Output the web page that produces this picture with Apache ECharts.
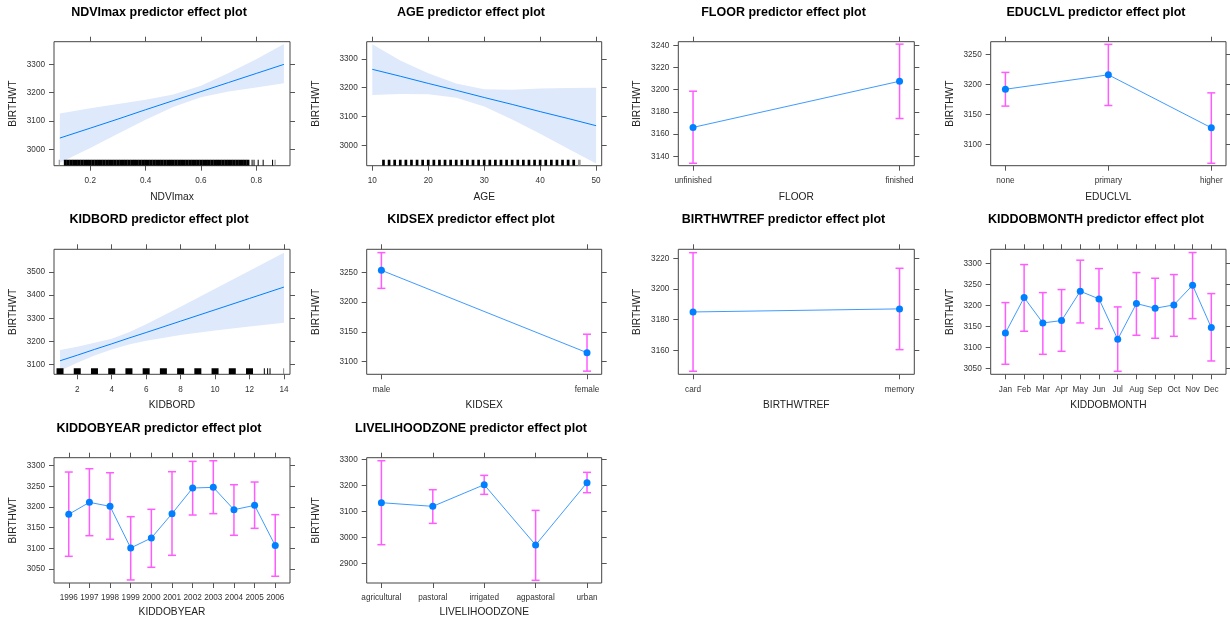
<!DOCTYPE html>
<html>
<head>
<meta charset="utf-8">
<title>BIRTHWT predictor effect plots</title>
<script src="https://cdn.jsdelivr.net/npm/echarts@6.0.0/dist/echarts.min.js"></script>
<style>
  html, body { margin: 0; padding: 0; background: #ffffff; }
  #chart { width: 1230px; height: 620px; }
</style>
</head>
<body>
<div id="chart"></div>
<script>
// values
const yName = 'BIRTHWT';

// NDVImax (continuous)
const ndviX = [0.09, 0.2, 0.3, 0.4, 0.5, 0.6, 0.7, 0.8, 0.9];
const ndviFit = [3040, 3075, 3107, 3140, 3172, 3204, 3236, 3268, 3300];
const ndviLower = [2953, 3005, 3055, 3105, 3150, 3184, 3204, 3218, 3233];
const ndviUpper = [3127, 3145, 3160, 3175, 3194, 3225, 3270, 3318, 3372];
const ndviRugDense = [0.11, 0.12, 0.13, 0.14, 0.15, 0.16, 0.17, 0.18, 0.19, 0.20, 0.21, 0.22, 0.23, 0.24,
  0.25, 0.26, 0.27, 0.28, 0.29, 0.30, 0.31, 0.32, 0.33, 0.34, 0.35, 0.36, 0.37, 0.38, 0.39, 0.40, 0.41,
  0.42, 0.43, 0.44, 0.45, 0.46, 0.47, 0.48, 0.49, 0.50, 0.51, 0.52, 0.53, 0.54, 0.55, 0.56, 0.57, 0.58,
  0.59, 0.60, 0.61, 0.62, 0.63, 0.64, 0.65, 0.66, 0.67, 0.68, 0.69, 0.70, 0.71, 0.72, 0.73, 0.74, 0.75,
  0.76, 0.77];
const ndviRugSparse = [0.785, 0.792, 0.807, 0.825, 0.859];
const ndviRugFaint = [0.088, 0.868];
const ndviXTicks = [0.2, 0.4, 0.6, 0.8];
const ndviYTicks = [3000, 3100, 3200, 3300];

// AGE (continuous)
const ageX = [10, 15, 20, 25, 30, 35, 40, 45, 50];
const ageFit = [3264, 3240, 3215, 3191, 3166, 3142, 3117, 3093, 3068];
const ageLower = [3175, 3178, 3177, 3165, 3135, 3090, 3040, 2988, 2937];
const ageUpper = [3351, 3295, 3250, 3215, 3195, 3193, 3197, 3199, 3200];
const ageRug = [12, 13, 14, 15, 16, 17, 18, 19, 20, 21, 22, 23, 24, 25, 26, 27, 28, 29, 30, 31, 32, 33,
  34, 35, 36, 37, 38, 39, 40, 41, 42, 43, 44, 45, 46];
const ageRugFaint = [47];
const ageXTicks = [10, 20, 30, 40, 50];
const ageYTicks = [3000, 3100, 3200, 3300];

// KIDBORD (continuous)
const kidbordX = [1, 2, 3, 4, 5, 6, 8, 10, 12, 14];
const kidbordFit = [3117, 3141, 3166, 3190, 3215, 3239, 3288, 3337, 3386, 3435];
const kidbordLower = [3074, 3108, 3140, 3166, 3187, 3203, 3228, 3248, 3265, 3281];
const kidbordUpper = [3163, 3178, 3195, 3212, 3240, 3275, 3350, 3428, 3505, 3583];
const kidbordRugBlock = [1, 2, 3, 4, 5, 6, 7, 8, 9, 10, 11, 12];
const kidbordRugThin = [12.86, 13.05, 13.19];
const kidbordRugFaint = [13.98];
const kidbordXTicks = [2, 4, 6, 8, 10, 12, 14];
const kidbordYTicks = [3100, 3200, 3300, 3400, 3500];

// FLOOR
const floorCats = ['unfinished', 'finished'];
const floorFit = [3166, 3207.6];
const floorLower = [3133.7, 3174];
const floorUpper = [3198.6, 3241];
const floorYTicks = [3140, 3160, 3180, 3200, 3220, 3240];

// EDUCLVL
const educCats = ['none', 'primary', 'higher'];
const educFit = [3192, 3216, 3128];
const educLower = [3164, 3165, 3069];
const educUpper = [3220, 3266.6, 3186];
const educYTicks = [3100, 3150, 3200, 3250];

// KIDSEX
const sexCats = ['male', 'female'];
const sexFit = [3253.4, 3115];
const sexLower = [3223, 3084];
const sexUpper = [3283, 3146];
const sexYTicks = [3100, 3150, 3200, 3250];

// BIRTHWTREF
const refCats = ['card', 'memory'];
const refFit = [3185, 3187];
const refLower = [3146.3, 3160.4];
const refUpper = [3223.7, 3213.5];
const refYTicks = [3160, 3180, 3200, 3220];

// KIDDOBMONTH
const monthCats = ['Jan', 'Feb', 'Mar', 'Apr', 'May', 'Jun', 'Jul', 'Aug', 'Sep', 'Oct', 'Nov', 'Dec'];
const monthFit = [3134.4, 3218.8, 3158.3, 3163.9, 3233.9, 3215.6, 3119.3, 3204.5, 3193.3, 3201.3, 3248.2, 3147.1];
const monthLower = [3059.6, 3138.4, 3083.4, 3090.6, 3158.3, 3144.7, 3042.8, 3128.8, 3121.7, 3126.4, 3168.6, 3067.5];
const monthUpper = [3206.8, 3297.6, 3230.7, 3237.9, 3308, 3288, 3196.5, 3278.5, 3264.9, 3273.7, 3326.3, 3228.3];
const monthYTicks = [3050, 3100, 3150, 3200, 3250, 3300];

// KIDDOBYEAR
const yearCats = ['1996', '1997', '1998', '1999', '2000', '2001', '2002', '2003', '2004', '2005', '2006'];
const yearFit = [3182.3, 3211.3, 3201.6, 3100.8, 3125, 3183.9, 3246, 3247.6, 3193.5, 3204, 3106.5];
const yearLower = [3080.6, 3130.6, 3121.8, 3023.4, 3054, 3083, 3180.6, 3183.9, 3131.5, 3148.4, 3032.3];
const yearUpper = [3284.7, 3292.7, 3283, 3176.6, 3194.4, 3285.5, 3310.5, 3312, 3254, 3260.5, 3181.5];
const yearYTicks = [3050, 3100, 3150, 3200, 3250, 3300];

// LIVELIHOODZONE
const zoneCats = ['agricultural', 'pastoral', 'irrigated', 'agpastoral', 'urban'];
const zoneFit = [3134.6, 3120.5, 3203.8, 2971.8, 3211.5];
const zoneLower = [2973, 3055, 3166.7, 2835.9, 3173];
const zoneUpper = [3296, 3184.6, 3239.7, 3105, 3251.3];
const zoneYTicks = [2900, 3000, 3100, 3200, 3300];

// layout
const FONT = '"Liberation Sans", Arial, Helvetica, sans-serif';
const LINE = '#0080ff';
const BAND = '#dfe9fc';
const ERR = '#ff5cff';
const colLeft = [54, 366.7, 678.3, 990.7];
const colWidth = [236, 235, 236, 235.3];
const titleX = [159, 471, 783.5, 1096];
const rowTop = [41.7, 249.3, 457.7];
const rowHeight = [124, 125, 125.3];
const titleY = [6, 213.5, 422];
const xNameGap = [26, 26, 24];

const panels = [
  { row: 0, col: 0, name: 'NDVImax', xs: ndviX, fit: ndviFit, lo: ndviLower, hi: ndviUpper,
    xMin: 0.069, xMax: 0.922, yMin: 2942.5, yMax: 3380, xTicks: ndviXTicks, yTicks: ndviYTicks,
    rugs: [{ v: ndviRugDense, w: 3, c: '#000' }, { v: ndviRugSparse, w: 1, c: '#000' }, { v: ndviRugFaint, w: 1, c: '#888' }] },
  { row: 0, col: 1, name: 'AGE', xs: ageX, fit: ageFit, lo: ageLower, hi: ageUpper,
    xMin: 9, xMax: 51, yMin: 2929, yMax: 3360, xTicks: ageXTicks, yTicks: ageYTicks, yGap: 46,
    rugs: [{ v: ageRug, w: 2.7, c: '#000' }, { v: ageRugFaint, w: 2.7, c: '#999' }] },
  { row: 0, col: 2, name: 'FLOOR', cats: floorCats, fit: floorFit, lo: floorLower, hi: floorUpper,
    yMin: 3131.5, yMax: 3243.2, yTicks: floorYTicks },
  { row: 0, col: 3, name: 'EDUCLVL', cats: educCats, fit: educFit, lo: educLower, hi: educUpper,
    yMin: 3065, yMax: 3271, yTicks: educYTicks },
  { row: 1, col: 0, name: 'KIDBORD', xs: kidbordX, fit: kidbordFit, lo: kidbordLower, hi: kidbordUpper,
    xMin: 0.65, xMax: 14.35, yMin: 3058.6, yMax: 3598, xTicks: kidbordXTicks, yTicks: kidbordYTicks,
    rugs: [{ v: kidbordRugBlock, w: 7, c: '#000' }, { v: kidbordRugThin, w: 1, c: '#000' }, { v: kidbordRugFaint, w: 1, c: '#888' }] },
  { row: 1, col: 1, name: 'KIDSEX', cats: sexCats, fit: sexFit, lo: sexLower, hi: sexUpper,
    yMin: 3078.7, yMax: 3288.6, yTicks: sexYTicks, yGap: 46 },
  { row: 1, col: 2, name: 'BIRTHWTREF', cats: refCats, fit: refFit, lo: refLower, hi: refUpper,
    yMin: 3144.3, yMax: 3225.9, yTicks: refYTicks },
  { row: 1, col: 3, name: 'KIDDOBMONTH', cats: monthCats, fit: monthFit, lo: monthLower, hi: monthUpper,
    yMin: 3035.7, yMax: 3334, yTicks: monthYTicks },
  { row: 2, col: 0, name: 'KIDDOBYEAR', cats: yearCats, fit: yearFit, lo: yearLower, hi: yearUpper,
    yMin: 3016, yMax: 3319.4, yTicks: yearYTicks },
  { row: 2, col: 1, name: 'LIVELIHOODZONE', cats: zoneCats, fit: zoneFit, lo: zoneLower, hi: zoneUpper,
    yMin: 2825.6, yMax: 3307.7, yTicks: zoneYTicks, yGap: 46 }
];

// confidence band drawn as one polygon through the axis scales
function bandRender(p) {
  return function (params, api) {
    if (params.dataIndex !== 0) return null;
    const pts = [];
    p.xs.forEach((x, i) => pts.push(api.coord([x, p.hi[i]])));
    for (let i = p.xs.length - 1; i >= 0; i--) pts.push(api.coord([p.xs[i], p.lo[i]]));
    return { type: 'polygon', shape: { points: pts }, style: { fill: BAND } };
  };
}

function rugRender(w, c) {
  return function (params, api) {
    const pt = api.coord([api.value(0), api.value(1)]);
    const cs = params.coordSys;
    const h = 6;
    return { type: 'rect', shape: { x: pt[0] - w / 2, y: cs.y + cs.height - h, width: w, height: h }, style: { fill: c } };
  };
}

function errRender(params, api) {
  const x = api.value(0);
  const lo = api.coord([x, api.value(1)]);
  const hi = api.coord([x, api.value(2)]);
  const cap = 4;
  const st = () => ({ stroke: ERR, lineWidth: 1.5 });
  return {
    type: 'group',
    children: [
      { type: 'line', shape: { x1: lo[0], y1: lo[1], x2: hi[0], y2: hi[1] }, style: st() },
      { type: 'line', shape: { x1: hi[0] - cap, y1: hi[1], x2: hi[0] + cap, y2: hi[1] }, style: st() },
      { type: 'line', shape: { x1: lo[0] - cap, y1: lo[1], x2: lo[0] + cap, y2: lo[1] }, style: st() }
    ]
  };
}

const tickStyle = { color: '#555', width: 1 };
const labelStyle = { fontSize: 8.2, color: '#333', fontFamily: FONT };
const nameStyle = { fontSize: 10.2, color: '#222', fontFamily: FONT };
const plain = v => String(v);

const grids = [], xAxes = [], yAxes = [], series = [], titles = [];

panels.forEach((p, i) => {
  grids.push({
    left: colLeft[p.col], top: rowTop[p.row], width: colWidth[p.col], height: rowHeight[p.row],
    show: true, borderColor: '#444', borderWidth: 1, containLabel: false
  });
  titles.push({
    text: p.name + ' predictor effect plot', left: titleX[p.col], top: titleY[p.row], textAlign: 'center', padding: 0,
    textStyle: { fontSize: 12.5, fontWeight: 'bold', color: '#000', fontFamily: FONT }
  });

  let xMin = p.xMin, xMax = p.xMax, xTicks = p.xTicks, fmt = plain;
  if (p.cats) {
    const n = p.cats.length;
    const pad = (n - 1) / 14;
    xMin = 1 - pad;
    xMax = n + pad;
    xTicks = p.cats.map((c, k) => k + 1);
    fmt = v => p.cats[Math.round(v) - 1] || '';
  }

  xAxes.push({
    gridIndex: i, type: 'value', min: xMin, max: xMax, position: 'bottom',
    name: p.name, nameLocation: 'middle', nameGap: xNameGap[p.row], nameTextStyle: nameStyle,
    axisLine: { show: false }, splitLine: { show: false },
    axisTick: { show: true, length: 5, customValues: xTicks, lineStyle: tickStyle },
    axisLabel: Object.assign({ customValues: xTicks, formatter: fmt, margin: 11 }, labelStyle)
  });
  xAxes.push({
    gridIndex: i, type: 'value', min: xMin, max: xMax, position: 'top',
    axisLine: { show: false }, splitLine: { show: false },
    axisTick: { show: true, length: 5, customValues: xTicks, lineStyle: tickStyle },
    axisLabel: { show: false }
  });
  yAxes.push({
    gridIndex: i, type: 'value', min: p.yMin, max: p.yMax, position: 'left',
    name: yName, nameLocation: 'middle', nameGap: p.yGap || 36, nameTextStyle: nameStyle,
    axisLine: { show: false }, splitLine: { show: false },
    axisTick: { show: true, length: 5, customValues: p.yTicks, lineStyle: tickStyle },
    axisLabel: Object.assign({ customValues: p.yTicks, formatter: plain, margin: 9 }, labelStyle)
  });
  yAxes.push({
    gridIndex: i, type: 'value', min: p.yMin, max: p.yMax, position: 'right',
    axisLine: { show: false }, splitLine: { show: false },
    axisTick: { show: true, length: 5, customValues: p.yTicks, lineStyle: tickStyle },
    axisLabel: { show: false }
  });

  const ax = { xAxisIndex: 2 * i, yAxisIndex: 2 * i };

  if (!p.cats) {
    series.push(Object.assign({
      type: 'custom', renderItem: bandRender(p), clip: true, silent: true, z: 1,
      data: p.xs.map((x, k) => [x, p.lo[k], p.hi[k]]), encode: { x: 0, y: [1, 2] }
    }, ax));
    p.rugs.forEach(r => {
      series.push(Object.assign({
        type: 'custom', renderItem: rugRender(r.w, r.c), clip: true, silent: true, z: 2,
        data: r.v.map(v => [v, p.yMin]), encode: { x: 0, y: 1 }
      }, ax));
    });
    series.push(Object.assign({
      type: 'line', data: p.xs.map((x, k) => [x, p.fit[k]]), showSymbol: false, symbol: 'none',
      lineStyle: { color: LINE, width: 1 }, silent: true, z: 3
    }, ax));
  } else {
    series.push(Object.assign({
      type: 'custom', renderItem: errRender, silent: true, z: 2,
      data: p.cats.map((c, k) => [k + 1, p.lo[k], p.hi[k]]), encode: { x: 0, y: [1, 2] }
    }, ax));
    series.push(Object.assign({
      type: 'line', data: p.cats.map((c, k) => [k + 1, p.fit[k]]),
      symbol: 'circle', symbolSize: 7, showSymbol: true,
      itemStyle: { color: LINE }, lineStyle: { color: '#3f9bff', width: 1 }, silent: true, z: 3
    }, ax));
  }
});

const chart = echarts.init(document.getElementById('chart'), null, { renderer: 'canvas' });
chart.setOption({
  animation: false,
  backgroundColor: '#ffffff',
  title: titles,
  grid: grids,
  xAxis: xAxes,
  yAxis: yAxes,
  series: series
});
</script>
</body>
</html>
